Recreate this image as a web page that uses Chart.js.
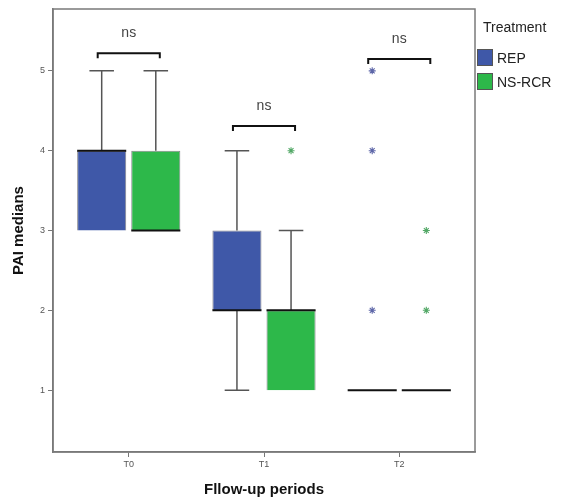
<!DOCTYPE html>
<html>
<head>
<meta charset="utf-8">
<script src="https://cdn.jsdelivr.net/npm/chart.js@4/dist/chart.umd.min.js"></script>
<style>
  html, body { margin: 0; padding: 0; background: #fff; }
</style>
</head>
<body>
<canvas id="grafik" width="574" height="502"></canvas>
<script>
// data
const periods = ['T0', 'T1', 'T2'];
const yTicks = [1, 2, 3, 4, 5];

const repMin = [3, 1, 1];
const repQ1 = [3, 2, 1];
const repMedian = [4, 2, 1];
const repQ3 = [4, 3, 1];
const repMax = [5, 4, 1];
const repOutliers = [[], [], [2, 4, 5]];

const nsMin = [3, 1, 1];
const nsQ1 = [3, 1, 1];
const nsMedian = [3, 2, 1];
const nsQ3 = [4, 2, 1];
const nsMax = [5, 3, 1];
const nsOutliers = [[], [4], [2, 3]];

const bracketLevel = [5.22, 4.31, 5.15];
const bracketText = ['ns', 'ns', 'ns'];

const series = [
  { label: 'REP', min: repMin, q1: repQ1, med: repMedian, q3: repQ3, max: repMax, out: repOutliers, color: '#3f58a8', star: '#5d66a8' },
  { label: 'NS-RCR', min: nsMin, q1: nsQ1, med: nsMedian, q3: nsQ3, max: nsMax, out: nsOutliers, color: '#2db84a', star: '#52a866' }
];

function asterisk(ctx, x, y, r) {
  ctx.beginPath();
  ctx.moveTo(x, y - r); ctx.lineTo(x, y + r);
  ctx.moveTo(x - r, y); ctx.lineTo(x + r, y);
  const d = r * 0.7;
  ctx.moveTo(x - d, y - d); ctx.lineTo(x + d, y + d);
  ctx.moveTo(x - d, y + d); ctx.lineTo(x + d, y - d);
  ctx.stroke();
}

const boxPlugin = {
  id: 'boxParts',
  afterDatasetsDraw(chart) {
    const ctx = chart.ctx;
    const y = chart.scales.y;
    const area = chart.chartArea;
    ctx.save();
    series.forEach((s, di) => {
      const meta = chart.getDatasetMeta(di);
      meta.data.forEach((bar, i) => {
        const cx = bar.x;
        const w = bar.width;
        ctx.strokeStyle = '#555';
        ctx.lineWidth = 1.5;
        // whiskers
        if (s.max[i] > s.q3[i]) {
          ctx.beginPath();
          ctx.moveTo(cx, y.getPixelForValue(s.q3[i]));
          ctx.lineTo(cx, y.getPixelForValue(s.max[i]));
          ctx.moveTo(cx - w / 4, y.getPixelForValue(s.max[i]));
          ctx.lineTo(cx + w / 4, y.getPixelForValue(s.max[i]));
          ctx.stroke();
        }
        if (s.min[i] < s.q1[i]) {
          ctx.beginPath();
          ctx.moveTo(cx, y.getPixelForValue(s.q1[i]));
          ctx.lineTo(cx, y.getPixelForValue(s.min[i]));
          ctx.moveTo(cx - w / 4, y.getPixelForValue(s.min[i]));
          ctx.lineTo(cx + w / 4, y.getPixelForValue(s.min[i]));
          ctx.stroke();
        }
        // median
        ctx.strokeStyle = '#111';
        ctx.lineWidth = 2;
        ctx.beginPath();
        ctx.moveTo(cx - w / 2, y.getPixelForValue(s.med[i]));
        ctx.lineTo(cx + w / 2, y.getPixelForValue(s.med[i]));
        ctx.stroke();
        // outliers
        ctx.strokeStyle = s.star;
        ctx.lineWidth = 1.1;
        s.out[i].forEach(v => asterisk(ctx, cx, y.getPixelForValue(v), 3.5));
      });
    });

    // ns brackets
    const m0 = chart.getDatasetMeta(0);
    const m1 = chart.getDatasetMeta(1);
    periods.forEach((p, i) => {
      const x1 = m0.data[i].x - 4;
      const x2 = m1.data[i].x + 4;
      const by = y.getPixelForValue(bracketLevel[i]);
      ctx.strokeStyle = '#111';
      ctx.lineWidth = 2;
      ctx.beginPath();
      ctx.moveTo(x1, by + 5);
      ctx.lineTo(x1, by);
      ctx.lineTo(x2, by);
      ctx.lineTo(x2, by + 5);
      ctx.stroke();
      ctx.fillStyle = '#444';
      ctx.font = '14px "Liberation Sans", Arial, sans-serif';
      ctx.textAlign = 'center';
      ctx.textBaseline = 'middle';
      ctx.fillText(bracketText[i], (x1 + x2) / 2, by - 20);
    });

    // frame
    ctx.strokeStyle = '#7a7a7a';
    ctx.lineWidth = 1.5;
    ctx.strokeRect(area.left, area.top, area.right - area.left, area.bottom - area.top);
    ctx.restore();
  },
  afterDraw(chart) {
    const ctx = chart.ctx;
    ctx.save();
    ctx.fillStyle = '#222';
    ctx.font = '14px "Liberation Sans", Arial, sans-serif';
    ctx.textAlign = 'left';
    ctx.textBaseline = 'middle';
    ctx.fillText('Treatment', 483, 28);
    series.forEach((s, i) => {
      const top = 49 + i * 24;
      ctx.fillStyle = s.color;
      ctx.fillRect(477, top, 16, 17);
      ctx.strokeStyle = '#555';
      ctx.lineWidth = 1;
      ctx.strokeRect(477.5, top + 0.5, 15, 16);
      ctx.fillStyle = '#222';
      ctx.fillText(s.label, 497, top + 10);
    });
    ctx.restore();
  }
};

new Chart(document.getElementById('grafik'), {
  type: 'bar',
  data: {
    datasets: series.map(s => ({
      label: s.label,
      data: periods.map((p, i) => ({ x: i, y: [s.q1[i], s.q3[i]] })),
      backgroundColor: s.color,
      borderColor: 'rgba(30,30,40,0.55)',
      borderWidth: 1,
      categoryPercentage: 0.8,
      barPercentage: 0.907
    }))
  },
  options: {
    responsive: false,
    animation: false,
    layout: { padding: { left: 0, right: 99, top: 9, bottom: 0 } },
    plugins: { legend: { display: false }, tooltip: { enabled: false } },
    scales: {
      x: {
        type: 'linear',
        offset: false,
        min: -0.56,
        max: 2.56,
        afterBuildTicks: s => { s.ticks = periods.map((p, i) => ({ value: i })); },
        afterFit: s => { s.height = 50; },
        ticks: {
          callback: (v, i) => periods[i],
          font: { size: 9, family: '"Liberation Sans", Arial, sans-serif' },
          color: '#555',
          padding: 2
        },
        grid: { offset: false, drawOnChartArea: false, drawTicks: true, tickLength: 5, color: '#777' },
        border: { color: '#7a7a7a', width: 1.5 },
        title: {
          display: true,
          text: 'Fllow-up periods',
          color: '#111',
          font: { size: 15, weight: 'bold', family: '"Liberation Sans", Arial, sans-serif' },
          padding: { top: 0, bottom: 3 }
        }
      },
      y: {
        min: 0.225,
        max: 5.775,
        afterBuildTicks: s => { s.ticks = yTicks.map(v => ({ value: v })); },
        afterFit: s => { s.width = 53; },
        ticks: {
          font: { size: 9, family: '"Liberation Sans", Arial, sans-serif' },
          color: '#555',
          padding: 3
        },
        grid: { drawOnChartArea: false, drawTicks: true, tickLength: 5, color: '#777' },
        border: { color: '#7a7a7a', width: 1.5 },
        title: {
          display: true,
          text: 'PAI medians',
          color: '#111',
          font: { size: 15, weight: 'bold', family: '"Liberation Sans", Arial, sans-serif' },
          padding: { top: 10, bottom: 0 }
        }
      }
    }
  },
  plugins: [boxPlugin]
});
</script>
</body>
</html>
